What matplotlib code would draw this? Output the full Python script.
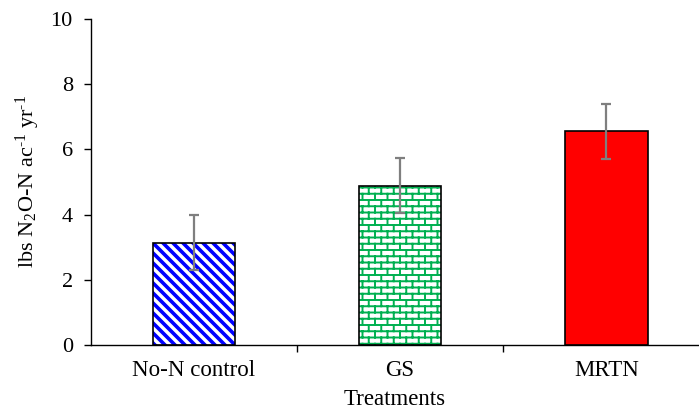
import matplotlib
matplotlib.use("Agg")
import matplotlib.pyplot as plt
import matplotlib.hatch as mhatch
from matplotlib.path import Path
import numpy as np

# ---- data ----
categories = ["No-N control", "GS", "MRTN"]
values = [3.14, 4.89, 6.55]
errors = [0.85, 0.85, 0.85]
y_ticks = [0, 2, 4, 6, 8, 10]
y_label = r"lbs N$_2$O-N ac$^{\text{-1}}$ yr$^{\text{-1}}$"
x_label = "Treatments"

# ---- custom hatch patterns (diagonal stripes and bricks) ----
STRIPE_KEY = "\\|\\|"
BRICK_KEY = "-|-|"
_orig_get_path = mhatch.get_path


def _stripe_path(n=10):
    verts, codes = [], []
    for i in range(-n - 1, n + 2):
        x0 = i / n
        verts += [(x0, 1.0), (x0 + 1.0, 0.0)]
        codes += [Path.MOVETO, Path.LINETO]
    return Path(np.array(verts), codes)


def _brick_path(rows=16, cols=8):
    verts, codes = [], []
    for r in range(rows + 1):
        y = r / rows
        verts += [(0.0, y), (1.0, y)]
        codes += [Path.MOVETO, Path.LINETO]
    for r in range(rows):
        off = 0.5 * (r % 2)
        for c in range(cols + 1):
            x = (c + off) / cols
            if 0 <= x <= 1:
                verts += [(x, r / rows), (x, (r + 1) / rows)]
                codes += [Path.MOVETO, Path.LINETO]
    return Path(np.array(verts), codes)


def _patched_get_path(hatchpattern, density=6):
    if hatchpattern == STRIPE_KEY:
        return _stripe_path()
    if hatchpattern == BRICK_KEY:
        return _brick_path()
    return _orig_get_path(hatchpattern, density)


mhatch.get_path = _patched_get_path
Path.hatch.cache_clear()

plt.rcParams["font.family"] = ["Liberation Serif", "DejaVu Serif"]
plt.rcParams["mathtext.fontset"] = "custom"
plt.rcParams["mathtext.rm"] = "Liberation Serif"
plt.rcParams["mathtext.it"] = "Liberation Serif:italic"

fig = plt.figure(figsize=(6.99, 4.13), dpi=100)
ax = fig.add_axes([0.130, 0.165, 0.8686, 0.789])

x = np.arange(len(categories))
width = 0.40

hatches = [STRIPE_KEY, BRICK_KEY, None]
hatch_colors = ["#0000ff", "#00b050", None]
faces = ["white", "white", "#ff0000"]
hatch_lw = [2.6, 1.4, 1.0]

for i in range(len(categories)):
    if hatches[i] is not None:
        b = ax.bar(x[i], values[i], width, color=faces[i],
                   edgecolor=hatch_colors[i], linewidth=0,
                   hatch=hatches[i], zorder=2)
        for p in b:
            if hasattr(p, "set_hatch_linewidth"):
                p.set_hatch_linewidth(hatch_lw[i])
        ax.bar(x[i], values[i], width, facecolor="none",
               edgecolor="black", linewidth=1.2, zorder=3)
    else:
        ax.bar(x[i], values[i], width, color=faces[i],
               edgecolor="black", linewidth=1.2, zorder=3)

ax.errorbar(x, values, yerr=errors, fmt="none", ecolor="#7f7f7f",
            elinewidth=1.6, capsize=3.8, capthick=1.6, zorder=4)

ax.set_xlim(-0.5, 2.445)
ax.set_ylim(0, 10)
ax.set_yticks(y_ticks)
ax.set_yticklabels([str(t) for t in y_ticks], fontsize=16)

ax.set_xticks(x)
ax.set_xticklabels(categories, fontsize=16.5)
ax.tick_params(axis="x", length=0, pad=11)
ax.set_xticks([0.5, 1.5], minor=True)
ax.tick_params(axis="x", which="minor", length=5, width=1, direction="out")
ax.tick_params(axis="y", length=5, width=1, direction="out", pad=8)

for s in ["top", "right"]:
    ax.spines[s].set_visible(False)
for s in ["left", "bottom"]:
    ax.spines[s].set_linewidth(1.0)
    ax.spines[s].set_color("black")

ax.set_ylabel(y_label, fontsize=16, labelpad=6)
ax.set_xlabel(x_label, fontsize=16.5, labelpad=6)

fig.savefig("out.png", dpi=100)
